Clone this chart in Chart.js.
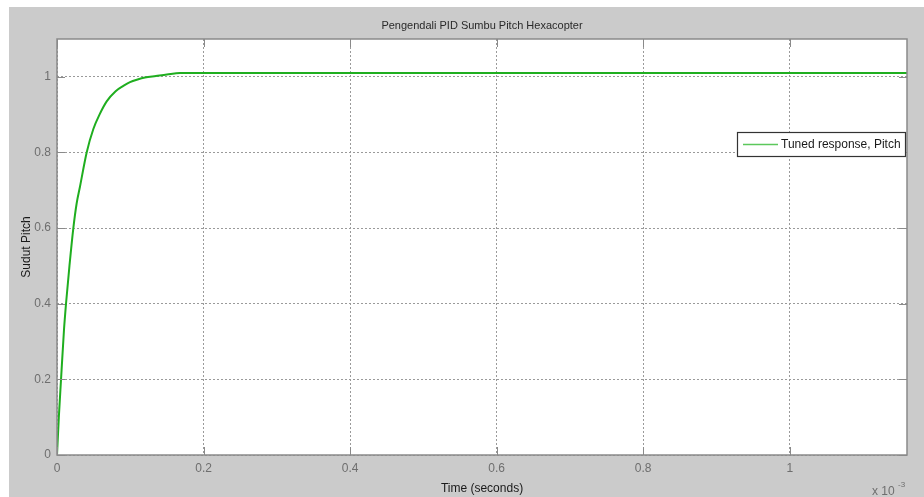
<!DOCTYPE html>
<html>
<head>
<meta charset="utf-8">
<script src="https://cdn.jsdelivr.net/npm/chart.js@4/dist/chart.umd.min.js"></script>
<style>
  html, body { margin: 0; padding: 0; background: #ffffff; }
  #wrap { position: relative; width: 924px; height: 497px; }
</style>
</head>
<body>
<div id="wrap"><canvas id="pitchChart" width="924" height="497"></canvas></div>
<script>
// step response of the tuned pitch loop (time in ms, axis shows x 10^-3 s)
const timeMs = [0, 0.0025, 0.0055, 0.0095, 0.0123, 0.017, 0.0223, 0.0268, 0.0314, 0.0405,
  0.0496, 0.058, 0.0678, 0.08, 0.0905, 0.0996, 0.11, 0.12, 0.135, 0.15, 0.168, 1.16];
const pitch = [0, 0.1, 0.2, 0.33, 0.4, 0.5, 0.6, 0.665, 0.71, 0.8,
  0.862, 0.9, 0.935, 0.962, 0.976, 0.986, 0.993, 0.998, 1.002, 1.006, 1.01, 1.01];
const xTicks = [0, 0.2, 0.4, 0.6, 0.8, 1];
const yTicks = [0, 0.2, 0.4, 0.6, 0.8, 1];
const chartTitle = "Pengendali PID Sumbu Pitch Hexacopter";

const FONT = "'Liberation Sans', Arial, sans-serif";
const FIG_BG = "#cbcbcb";
const FRAME = "#8a8a8a";

const fmtTick = v => String(+Number(v).toFixed(1));

// grey figure, white axes box, frame with inward ticks, title, legend, exponent
const matlabLook = {
  id: "matlabLook",
  beforeDraw(chart) {
    const { ctx, chartArea: a } = chart;
    ctx.save();
    ctx.fillStyle = "#ffffff";
    ctx.fillRect(0, 0, chart.width, chart.height);
    ctx.fillStyle = FIG_BG;
    ctx.fillRect(9, 7, chart.width - 9, chart.height - 7);
    ctx.fillStyle = "#ffffff";
    ctx.fillRect(a.left, a.top, a.right - a.left, a.bottom - a.top);
    ctx.restore();
  },
  afterDraw(chart) {
    const { ctx, chartArea: a, scales } = chart;
    ctx.save();
    ctx.setLineDash([]);
    ctx.strokeStyle = FRAME;
    ctx.lineWidth = 1.5;
    ctx.strokeRect(a.left, a.top, a.right - a.left, a.bottom - a.top);

    ctx.lineWidth = 1;
    ctx.beginPath();
    xTicks.forEach(v => {
      const px = Math.round(scales.x.getPixelForValue(v)) + 0.5;
      ctx.moveTo(px, a.bottom); ctx.lineTo(px, a.bottom - 8);
      ctx.moveTo(px, a.top); ctx.lineTo(px, a.top + 8);
    });
    yTicks.forEach(v => {
      const py = Math.round(scales.y.getPixelForValue(v)) + 0.5;
      ctx.moveTo(a.left, py); ctx.lineTo(a.left + 8, py);
      ctx.moveTo(a.right, py); ctx.lineTo(a.right - 8, py);
    });
    ctx.stroke();

    // title over the axes box
    ctx.fillStyle = "#2a2a2a";
    ctx.font = "11px " + FONT;
    ctx.textAlign = "center";
    ctx.textBaseline = "middle";
    ctx.fillText(chartTitle, (a.left + a.right) / 2, 26);

    // legend box
    const ds = chart.data.datasets[0];
    const lx = 737, ly = 132, lw = 168, lh = 24;
    ctx.fillStyle = "#ffffff";
    ctx.fillRect(lx, ly, lw, lh);
    ctx.strokeStyle = "#333333";
    ctx.lineWidth = 1.2;
    ctx.strokeRect(lx + 0.5, ly + 0.5, lw, lh);
    ctx.strokeStyle = "#5cc85c";
    ctx.lineWidth = 1.5;
    ctx.beginPath();
    ctx.moveTo(743, ly + 12.5);
    ctx.lineTo(778, ly + 12.5);
    ctx.stroke();
    ctx.fillStyle = "#1a1a1a";
    ctx.font = "12px " + FONT;
    ctx.textAlign = "left";
    ctx.fillText(ds.label, 781, ly + 13);

    // axis exponent
    ctx.fillStyle = "#6e6e6e";
    ctx.font = "12px " + FONT;
    ctx.fillText("x 10", 872, 492);
    ctx.font = "8px " + FONT;
    ctx.fillText("-3", 898, 485);
    ctx.restore();
  }
};

const ctx = document.getElementById("pitchChart").getContext("2d");
new Chart(ctx, {
  type: "line",
  data: {
    datasets: [
      {
        label: "Tuned response, Pitch",
        data: timeMs.map((t, i) => ({ x: t, y: pitch[i] })),
        borderColor: "#1fae1f",
        borderWidth: 2,
        pointRadius: 0,
        cubicInterpolationMode: "monotone",
        fill: false,
      },
    ],
  },
  options: {
    responsive: false,
    animation: false,
    layout: { padding: { left: 9, top: 39, right: 17, bottom: 0 } },
    plugins: {
      legend: { display: false },
      tooltip: { enabled: false },
      title: { display: false },
    },
    scales: {
      x: {
        type: "linear",
        min: 0,
        max: 1.16,
        afterFit: s => { s.height = 42; },
        ticks: {
          stepSize: 0.2,
          includeBounds: false,
          padding: 6,
          color: "#6e6e6e",
          font: { family: FONT, size: 12 },
          callback: fmtTick,
        },
        grid: { color: "#9a9a9a", drawTicks: false, lineWidth: 1 },
        border: { display: false, dash: [2, 2] },
        title: {
          display: true,
          text: "Time (seconds)",
          color: "#1a1a1a",
          font: { family: FONT, size: 12 },
          padding: { top: 0, bottom: 1 },
        },
      },
      y: {
        min: 0,
        max: 1.1,
        afterFit: s => { s.width = 48; },
        ticks: {
          stepSize: 0.2,
          includeBounds: false,
          padding: 6,
          color: "#6e6e6e",
          font: { family: FONT, size: 12 },
          callback: fmtTick,
        },
        grid: { color: "#9a9a9a", drawTicks: false, lineWidth: 1 },
        border: { display: false, dash: [2, 2] },
        title: {
          display: true,
          text: "Sudut Pitch",
          color: "#1a1a1a",
          font: { family: FONT, size: 12 },
          padding: { top: 10, bottom: 0 },
        },
      },
    },
  },
  plugins: [matlabLook],
});
</script>
</body>
</html>
